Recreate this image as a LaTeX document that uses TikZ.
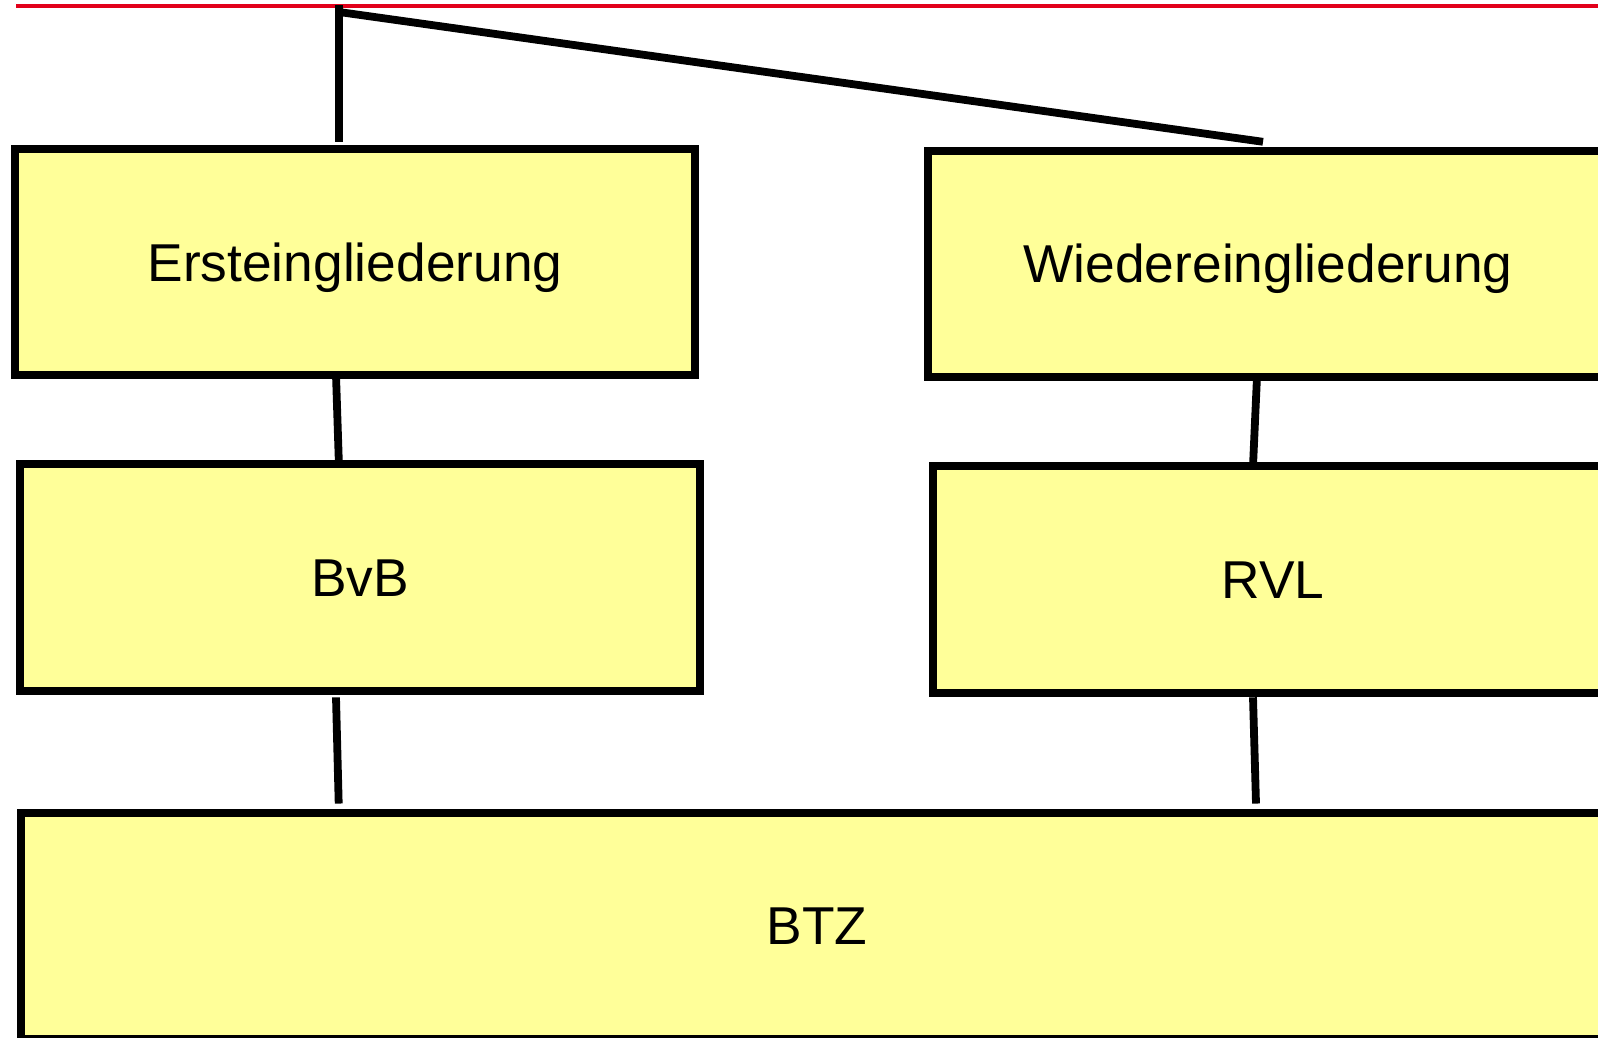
\documentclass[tikz,border=0pt]{standalone}
\usepackage{fontspec}
\setmainfont{Liberation Sans}
\definecolor{boxfill}{RGB}{255,255,153}
\definecolor{topred}{RGB}{226,0,26}
\begin{document}
\begin{tikzpicture}[x=1pt,y=-1pt,
  box/.style={draw=black, line width=8pt, fill=boxfill, rectangle, inner sep=0pt, outer sep=0pt,
    minimum width=680pt, minimum height=226pt,
    font=\fontsize{53.3}{64}\selectfont, text height=38.2pt, text depth=0pt},
  conn/.style={draw=black, line width=7.8pt, line cap=butt}]
\useasboundingbox (0,0) rectangle (1598,1038);
\clip (0,0) rectangle (1598,1038);
\fill[white] (0,0) rectangle (1598,1038);
% red line
\coordinate (redL) at (16,6.5);
\coordinate (redR) at (1600,6.5);
\draw[topred, line width=4pt] (redL) -- (redR);
% boxes
\node[box] (erst) at (355,262) {Ersteingliederung};
\node[box] (wieder) at (1268,263.6) {Wiedereingliederung};
\node[box, minimum height=226.5pt] (bvb) at (359.9,577.3) {BvB};
\node[box, minimum height=227pt] (rvl) at (1273,579.5) {RVL};
\node[box, minimum width=1592pt, minimum height=226.5pt] (btz) at (817,925.8) {BTZ};
% connectors
\coordinate (topA) at (339,5);
\coordinate (topB) at (339,12);
\draw[conn] (topA) -- ([xshift=-16pt,yshift=7pt]erst.north);
\draw[conn] (topB) -- ([xshift=-5pt,yshift=8.8pt]wieder.north);
\draw[conn] ([xshift=-19pt]erst.south) -- ([xshift=-21pt]bvb.north);
\draw[conn] ([xshift=-11pt]wieder.south) -- ([xshift=-20pt]rvl.north);
\draw[conn] ([xshift=-23.9pt,yshift=-6.8pt]bvb.south) -- ([xshift=-478.3pt,yshift=9pt]btz.north);
\draw[conn] ([xshift=-20pt,yshift=-4.3pt]rvl.south) -- ([xshift=439pt,yshift=9pt]btz.north);
\end{tikzpicture}
\end{document}
